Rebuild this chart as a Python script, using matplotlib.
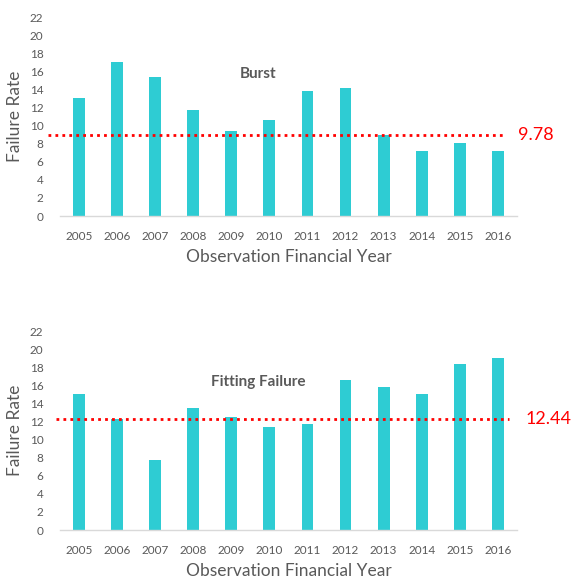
import matplotlib
matplotlib.use("Agg")
import matplotlib.pyplot as plt

years = ["2005", "2006", "2007", "2008", "2009", "2010", "2011", "2012", "2013", "2014", "2015", "2016"]
burst = [13.0, 17.0, 15.4, 11.75, 9.35, 10.6, 13.85, 14.1, 9.0, 7.15, 8.05, 7.15]
fitting = [15.0, 12.3, 7.7, 13.45, 12.5, 11.35, 11.75, 16.6, 15.8, 15.0, 18.3, 19.05]
burst_line = 9.0
fitting_line = 12.25
burst_label = "9.78"
fitting_label = "12.44"
yticks = list(range(0, 23, 2))

plt.rcParams['font.family'] = ['Lato', 'DejaVu Sans']
BAR = "#2ECCD3"
GREY = "#595959"

fig = plt.figure(figsize=(5.74, 5.83), dpi=100)

def panel(rect, vals, level, label, label_x, title, title_y, line_x0, line_x1):
    ax = fig.add_axes(rect)
    x = list(range(len(years)))
    ax.bar(x, vals, width=0.31, color=BAR, zorder=2)
    ax.set_xlim(-0.5, len(years) - 0.5)
    ax.set_ylim(0, 22)
    ax.set_yticks(yticks)
    ax.set_xticks(x)
    ax.set_xticklabels(years)
    ax.tick_params(axis='both', length=0, labelsize=8.5, colors=GREY)
    ax.tick_params(axis='y', pad=12)
    ax.tick_params(axis='x', pad=11)
    for s in ["top", "right", "left"]:
        ax.spines[s].set_visible(False)
    ax.spines["bottom"].set_color("#d9d9d9")
    ax.spines["bottom"].set_linewidth(1)
    ax.plot([line_x0, line_x1], [level, level], color="#FF0000", linestyle=(0, (1, 1.5)),
            linewidth=2, clip_on=False, zorder=3)
    ax.text(label_x, level, label, color="#FF0000", fontsize=13, va="center", ha="left")
    ax.text(4.7, title_y, title, color=GREY, fontsize=11, fontweight="bold",
            ha="center", va="center")
    ax.set_ylabel("Failure Rate", fontsize=12.5, color=GREY, labelpad=5)
    ax.set_xlabel("Observation Financial Year", fontsize=12.5, color=GREY, labelpad=5)
    return ax

panel([0.1045, 0.6295, 0.796, 0.3413], burst, burst_line, burst_label, 11.52,
      "Burst", 15.7, -0.82, 11.2)
panel([0.1045, 0.0909, 0.796, 0.3413], fitting, fitting_line, fitting_label, 11.72,
      "Fitting Failure", 16.35, -0.6, 11.3)

fig.savefig("out.png", dpi=100)
